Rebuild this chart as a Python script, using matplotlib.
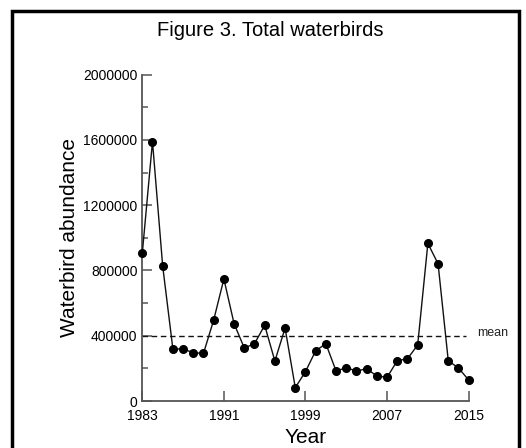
import matplotlib
matplotlib.use("Agg")
import matplotlib.pyplot as plt
from matplotlib.patches import Rectangle

years = list(range(1983, 2016))
abundance = [905000, 1590000, 827000, 319000, 319000, 296000, 292000, 496000,
             748000, 474000, 325000, 351000, 464000, 245000, 447000, 82000,
             180000, 308000, 351000, 184000, 204000, 184000, 198000, 153000,
             145000, 247000, 259000, 343000, 966000, 841000, 247000, 202000,
             129000]
mean_value = 400000
mean_end = 2014.7
x_ticks = [1983, 1991, 1999, 2007, 2015]
y_ticks = [0, 400000, 800000, 1200000, 1600000, 2000000]

plt.rcParams["font.family"] = ["Liberation Sans", "DejaVu Sans"]

fig = plt.figure(figsize=(5.26, 4.48), dpi=100)
ax = fig.add_axes([0.2705, 0.1049, 0.6205, 0.7284])

# frame around the whole figure (bottom edge falls outside the image)
fig.patches.append(Rectangle((11.5 / 526, -0.05), 507 / 526, 1 - 11.5 / 448 + 0.05,
                             transform=fig.transFigure, fill=False,
                             edgecolor="black", linewidth=2.5))

ax.plot(years, abundance, color="#111111", linewidth=1.0, marker="o",
        markersize=5.5, markerfacecolor="black", markeredgecolor="black",
        clip_on=False, zorder=3)
ax.plot([years[0], mean_end], [mean_value, mean_value], color="#111111",
        linewidth=1.0, linestyle=(0, (4, 2.6)), zorder=2)
ax.text(2015.8, mean_value + 15000, "mean", fontsize=9, ha="left", va="center",
        color="#222222")

ax.set_xlim(1983, 2015)
ax.set_ylim(0, 2000000)
ax.set_xticks(x_ticks)
ax.set_yticks(y_ticks)
ax.set_yticks([200000, 600000, 1000000, 1400000, 1800000], minor=True)
ax.set_yticklabels([str(v) for v in y_ticks])

for s in ["top", "right"]:
    ax.spines[s].set_visible(False)
for s in ["left", "bottom"]:
    ax.spines[s].set_color("#555555")
    ax.spines[s].set_linewidth(1.3)

ax.tick_params(axis="both", which="major", direction="in", length=7,
               width=1.1, color="#555555", labelsize=10)
ax.tick_params(axis="y", which="minor", direction="in", length=4,
               width=1.1, color="#555555")
ax.tick_params(axis="y", pad=3.5)
ax.tick_params(axis="x", pad=6)

ax.set_xlabel("Year", fontsize=15, labelpad=3)
ax.set_ylabel("Waterbird abundance", fontsize=15, labelpad=3)

fig.text(270 / 526, 1 - 30 / 448, "Figure 3. Total waterbirds", fontsize=14.5,
         ha="center", va="center")

fig.savefig("out.png", dpi=100)
